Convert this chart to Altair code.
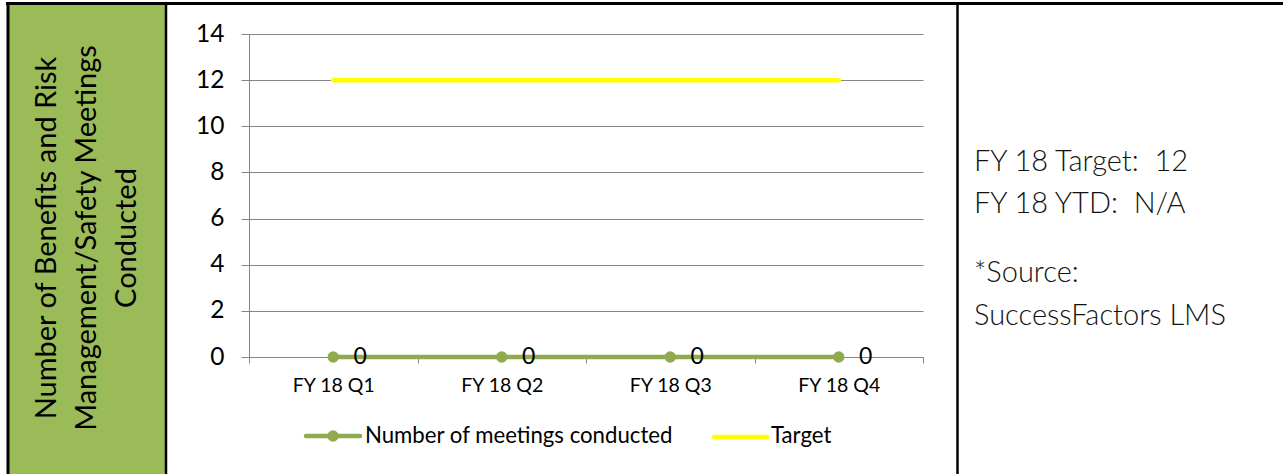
import altair as alt
import pandas as pd

# ---- data ----
quarters = ["FY 18 Q1", "FY 18 Q2", "FY 18 Q3", "FY 18 Q4"]
meetings = [0, 0, 0, 0]
target = [12, 12, 12, 12]
y_ticks = [0, 2, 4, 6, 8, 10, 12, 14]

series_meetings = "Number of meetings conducted"
series_target = "Target"
title_lines = ["Number of Benefits and Risk", "Management/Safety Meetings", "Conducted"]
side_lines = ["FY 18 Target:\u00a0 12", "FY 18 YTD:\u00a0 N/A", "*Source:", "SuccessFactors LMS"]

df_m = pd.DataFrame({"quarter": quarters, "value": meetings})
df_t = pd.DataFrame({"quarter": quarters, "value": target})
one = pd.DataFrame({"k": [0]})

# ---- layout ----
W, H = 1283, 474
LEFT, TOP = 249, 34
PW, PH = 674, 323
FONT = "Lato"
GREEN_CELL = "#9BBB59"
GREEN_LINE = "#8FAB4E"
YELLOW = "#FFFF00"
GRAY = "#868686"


def px(x):
    return x - LEFT


def py(y):
    return y - TOP


xenc = alt.X(
    "quarter:N",
    sort=quarters,
    scale=alt.Scale(paddingInner=0, paddingOuter=0),
    axis=alt.Axis(
        title=None, labelAngle=0, tickBand="extent", tickSize=6, tickColor=GRAY,
        domainColor=GRAY, labelFont=FONT, labelFontSize=19.5, labelColor="black",
        labelBaseline="alphabetic", labelPadding=28, grid=False,
    ),
)
yenc = alt.Y(
    "value:Q",
    scale=alt.Scale(domain=[0, 14], nice=False),
    axis=alt.Axis(
        title=None, values=y_ticks, tickSize=8, tickColor=GRAY, domainColor=GRAY,
        gridColor=GRAY, labelFont=FONT, labelFontSize=24.5, labelColor="black",
        labelPadding=17,
    ),
)

# decorations
cell = alt.Chart(one).mark_rect(color=GREEN_CELL).encode(
    x=alt.value(px(9)), x2=alt.value(px(165)), y=alt.value(py(4)), y2=alt.value(py(H + 5))
)
borders = [
    alt.Chart(one).mark_rule(color="black", strokeWidth=3).encode(
        x=alt.value(px(6)), x2=alt.value(px(W + 2)), y=alt.value(py(3.5)), y2=alt.value(py(3.5))),
    alt.Chart(one).mark_rule(color="black", strokeWidth=3).encode(
        x=alt.value(px(8)), x2=alt.value(px(8)), y=alt.value(py(2)), y2=alt.value(py(H + 5))),
    alt.Chart(one).mark_rule(color="black", strokeWidth=2.5).encode(
        x=alt.value(px(166)), x2=alt.value(px(166)), y=alt.value(py(2)), y2=alt.value(py(H + 5))),
    alt.Chart(one).mark_rule(color="black", strokeWidth=2.5).encode(
        x=alt.value(px(957.5)), x2=alt.value(px(957.5)), y=alt.value(py(2)), y2=alt.value(py(H + 5))),
]

title_x = [56, 96, 136]
titles = [
    alt.Chart(one).mark_text(angle=270, align="center", baseline="alphabetic",
                             font=FONT, fontSize=29, color="black").encode(
        x=alt.value(px(tx)), y=alt.value(py(238)), text=alt.value(t))
    for tx, t in zip(title_x, title_lines)
]

side_y = [171, 213, 282, 325]
sides = [
    alt.Chart(one).mark_text(align="left", baseline="alphabetic", font=FONT,
                             fontSize=29, fontWeight=300, color="#111111").encode(
        x=alt.value(px(974)), y=alt.value(py(sy)), text=alt.value(t))
    for sy, t in zip(side_y, side_lines)
]

# data layers
target_line = alt.Chart(df_t).mark_line(color=YELLOW, strokeWidth=4.5, strokeCap="round").encode(
    x=xenc, y=yenc)
meet_line = alt.Chart(df_m).mark_line(color=GREEN_LINE, strokeWidth=4.5).encode(x=xenc, y=yenc)
meet_pts = alt.Chart(df_m).mark_point(filled=True, size=130, color=GREEN_LINE, opacity=1).encode(
    x=xenc, y=yenc)
meet_lbl = alt.Chart(df_m).mark_text(dx=27, align="center", baseline="middle", font=FONT,
                                     fontSize=23, color="black").encode(
    x=xenc, y=yenc, text=alt.Text("value:Q"))

# manual legend
leg_y = 436
legend = [
    alt.Chart(one).mark_rule(color=GREEN_LINE, strokeWidth=4.5, strokeCap="round").encode(
        x=alt.value(px(306)), x2=alt.value(px(360)), y=alt.value(py(leg_y)), y2=alt.value(py(leg_y))),
    alt.Chart(one).mark_point(filled=True, size=130, color=GREEN_LINE, opacity=1).encode(
        x=alt.value(px(333)), y=alt.value(py(leg_y))),
    alt.Chart(one).mark_text(align="left", baseline="middle", font=FONT, fontSize=22.2,
                             color="black").encode(
        x=alt.value(px(365)), y=alt.value(py(leg_y)), text=alt.value(series_meetings)),
    alt.Chart(one).mark_rule(color=YELLOW, strokeWidth=4.5, strokeCap="round").encode(
        x=alt.value(px(714)), x2=alt.value(px(767)), y=alt.value(py(leg_y + 1)), y2=alt.value(py(leg_y + 1))),
    alt.Chart(one).mark_text(align="left", baseline="middle", font=FONT, fontSize=22.2,
                             color="black").encode(
        x=alt.value(px(771)), y=alt.value(py(leg_y)), text=alt.value(series_target)),
]

chart = alt.layer(
    cell, *borders, *titles, *sides,
    target_line, meet_line, meet_pts, meet_lbl, *legend,
).properties(
    width=PW, height=PH,
    padding={"left": LEFT, "top": TOP, "right": W - LEFT - PW, "bottom": H - TOP - PH},
    autosize=alt.AutoSizeParams(type="none"),
    background="white",
).configure_view(stroke=None)

chart.save("out.html", embed_options={"renderer": "svg", "actions": False})
